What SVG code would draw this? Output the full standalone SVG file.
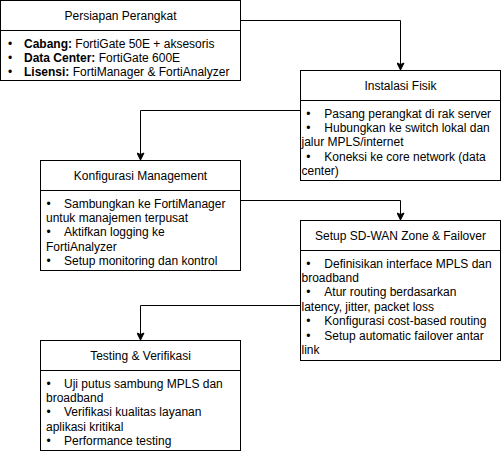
<svg xmlns="http://www.w3.org/2000/svg" width="501" height="451" viewBox="0 0 501 451">
<defs>
<style>
.box{fill:#fff;stroke:#000;stroke-width:1}
.div{stroke:#000;stroke-width:1;fill:none}
.edge{fill:none;stroke:#000;stroke-width:1}
text{font-family:"Liberation Sans",Arial,Helvetica,sans-serif;font-size:12px;fill:#000}
.t{text-anchor:middle}
.b{font-weight:bold}
</style>
<marker id="arr" viewBox="-8 -4 9 8" refX="0" refY="0" markerWidth="9" markerHeight="8" markerUnits="userSpaceOnUse" orient="auto">
<path d="M0,0 L-7,-3.5 L-5.5,0 L-7,3.5 Z" fill="#000" stroke="#000" stroke-width="1" stroke-linejoin="miter"/>
</marker>
</defs>
<rect width="501" height="451" fill="#fff"/>
<g id="connectors">
<path class="edge" d="M240.5,20.5 H400.5 V70" marker-end="url(#arr)"/>
<path class="edge" d="M300.5,110.5 H140.5 V160" marker-end="url(#arr)"/>
<path class="edge" d="M240.5,200.5 H400.5 V220" marker-end="url(#arr)"/>
<path class="edge" d="M300.5,305.5 H140.5 V340" marker-end="url(#arr)"/>
</g>
<g id="persiapan">
<rect class="box" x="0.5" y="0.5" width="240" height="80"/>
<line class="div" x1="0.5" y1="30.5" x2="240.5" y2="30.5"/>
<text class="t" x="120.5" y="19.5">Persiapan Perangkat</text>
<text x="7.9" y="47.5">•</text><text x="24" y="47.5"><tspan class="b">Cabang:</tspan> FortiGate 50E + aksesoris</text>
<text x="7.9" y="61.9">•</text><text x="24" y="61.9"><tspan class="b">Data Center:</tspan> FortiGate 600E</text>
<text x="7.9" y="76.3">•</text><text x="24" y="76.3"><tspan class="b">Lisensi:</tspan> FortiManager &amp; FortiAnalyzer</text>
</g>
<g id="instalasi">
<rect class="box" x="300.5" y="70.5" width="200" height="110"/>
<line class="div" x1="300.5" y1="100.5" x2="500.5" y2="100.5"/>
<text class="t" x="400.5" y="89.5">Instalasi Fisik</text>
<text x="306.3" y="117.5">•</text><text x="324.3" y="117.5">Pasang perangkat di rak server</text>
<text x="306.3" y="131.9">•</text><text x="324.3" y="131.9">Hubungkan ke switch lokal dan</text>
<text x="301.5" y="146.3">jalur MPLS/internet</text>
<text x="306.3" y="160.7">•</text><text x="324.3" y="160.7">Koneksi ke core network (data</text>
<text x="301.5" y="175.1">center)</text>
</g>
<g id="konfigurasi">
<rect class="box" x="40.5" y="160.5" width="200" height="110"/>
<line class="div" x1="40.5" y1="190.5" x2="240.5" y2="190.5"/>
<text class="t" x="140.5" y="179.5">Konfigurasi Management</text>
<text x="46.5" y="207.5">•</text><text x="64" y="207.5">Sambungkan ke FortiManager</text>
<text x="46" y="221.9">untuk manajemen terpusat</text>
<text x="46.5" y="236.3">•</text><text x="64" y="236.3">Aktifkan logging ke</text>
<text x="46" y="250.7">FortiAnalyzer</text>
<text x="46.5" y="265.1">•</text><text x="64" y="265.1">Setup monitoring dan kontrol</text>
</g>
<g id="sdwan">
<rect class="box" x="300.5" y="220.5" width="200" height="140"/>
<line class="div" x1="300.5" y1="250.5" x2="500.5" y2="250.5"/>
<text class="t" x="400.5" y="239.5">Setup SD-WAN Zone &amp; Failover</text>
<text x="306.3" y="267.5">•</text><text x="324.3" y="267.5">Definisikan interface MPLS dan</text>
<text x="301.5" y="281.9">broadband</text>
<text x="306.3" y="296.3">•</text><text x="324.3" y="296.3">Atur routing berdasarkan</text>
<text x="301.5" y="310.7">latency, jitter, packet loss</text>
<text x="306.3" y="325.1">•</text><text x="324.3" y="325.1">Konfigurasi cost-based routing</text>
<text x="306.3" y="339.5">•</text><text x="324.3" y="339.5">Setup automatic failover antar</text>
<text x="301.5" y="353.9">link</text>
</g>
<g id="testing">
<rect class="box" x="40.5" y="340.5" width="200" height="110"/>
<line class="div" x1="40.5" y1="370.5" x2="240.5" y2="370.5"/>
<text class="t" x="140.5" y="359.5">Testing &amp; Verifikasi</text>
<text x="46.5" y="387.5">•</text><text x="64" y="387.5">Uji putus sambung MPLS dan</text>
<text x="46" y="401.9">broadband</text>
<text x="46.5" y="416.3">•</text><text x="64" y="416.3">Verifikasi kualitas layanan</text>
<text x="46" y="430.7">aplikasi kritikal</text>
<text x="46.5" y="445.1">•</text><text x="64" y="445.1">Performance testing</text>
</g>
</svg>
